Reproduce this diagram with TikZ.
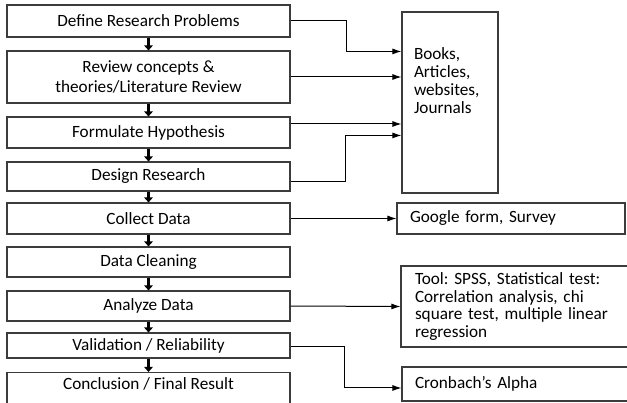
\documentclass[tikz,border=0pt]{standalone}
\usepackage{fontspec}
\setmainfont{Carlito}
\usetikzlibrary{arrows.meta, positioning}
\definecolor{boxgray}{RGB}{60,60,60}
\frenchspacing

\begin{document}
\begin{tikzpicture}[
    x=1pt, y=-1pt,
    every node/.style={font=\fontsize{17.2}{17.6}\selectfont},
    stage/.style={rectangle, draw=boxgray, line width=1.1pt,
        minimum width=283pt, align=center, inner sep=2pt},
    src/.style={rectangle, draw=boxgray, line width=1.1pt,
        align=left, inner ysep=2pt},
    flow/.style={-{Triangle[length=5pt,width=8.5pt]}, line width=3pt,
        draw=black},
    link/.style={-{Latex[length=9pt,width=6pt]}, line width=1pt,
        draw=black},
]
\useasboundingbox (0,0) rectangle (627,403);
\clip (0,0) rectangle (627,403);

% ===== LEFT: research steps =====
\node[stage, minimum height=32pt] (define)   at (148.5,21)    {Define Research Problems};
\node[stage, minimum height=52pt] (review)   at (148.5,77)    {Review concepts \&\\[2pt]theories/Literature Review};
\node[stage, minimum height=31pt] (hypo)     at (148.5,132.5) {Formulate Hypothesis};
\node[stage, minimum height=29pt] (design)   at (148.5,176.5) {Design Research};
\node[stage, minimum height=31pt] (collect)  at (148.5,218.5) {Collect Data};
\node[stage, minimum height=30pt] (clean)    at (148.5,262)   {Data Cleaning};
\node[stage, minimum height=30pt] (analyze)  at (148.5,306)   {Analyze Data};
\node[stage, minimum height=25pt] (valid)    at (148.5,345.5) {Validation / Reliability};
\node[stage, anchor=north, inner ysep=5pt, text height=12pt, text depth=22pt]
    (concl) at (148.5,372) {Conclusion / Final Result};

\foreach \a/\b in {define/review, review/hypo, hypo/design, design/collect,
    collect/clean, clean/analyze, analyze/valid, valid/concl}
    \draw[flow] (\a) -- (\b);

% ===== RIGHT: sources and tools =====
\node[src, minimum width=96pt, minimum height=181pt, inner xsep=0pt] (books) at (450,102.5)
    {\parbox[c][110pt][t]{72pt}{Books,\\[0.3pt]Articles,\\[0.3pt]websites,\\[0.3pt]Journals}};
\node[src, text width=202pt, inner xsep=13pt, minimum height=31pt] (google)
    at (511,218.5) {Google form, Survey};
\node[src, text width=212pt, inner xsep=14pt, minimum height=81pt] (tool)
    at (521,306.5) {Tool: SPSS, Statistical test:\\Correlation analysis, chi\\square test, multiple linear\\regression};
\node[src, text width=212pt, inner xsep=13pt, minimum height=34pt] (cronbach)
    at (521,384) {Cronbach’s Alpha};

% connectors, steps to sources
\draw[link] (define.east) -- ++(56,0) |- ([yshift=-40pt]books.north west);
\draw[link] (review.east) -- (review.east -| books.west);
\draw[link] ([yshift=8.5pt]hypo.east) -- ([yshift=8.5pt]hypo.east -| books.west);
\draw[link] ([yshift=-5.5pt]design.east) -- ++(55,0) |- ([yshift=-124pt]books.north west);
\draw[link] (collect.east) -- (google.west);
\draw[link] (analyze.east) -- (tool.west);
\draw[link] ([yshift=-1.5pt]valid.east) -- ++(54,0) |- ([yshift=-4pt]cronbach.west);

\end{tikzpicture}
\end{document}
